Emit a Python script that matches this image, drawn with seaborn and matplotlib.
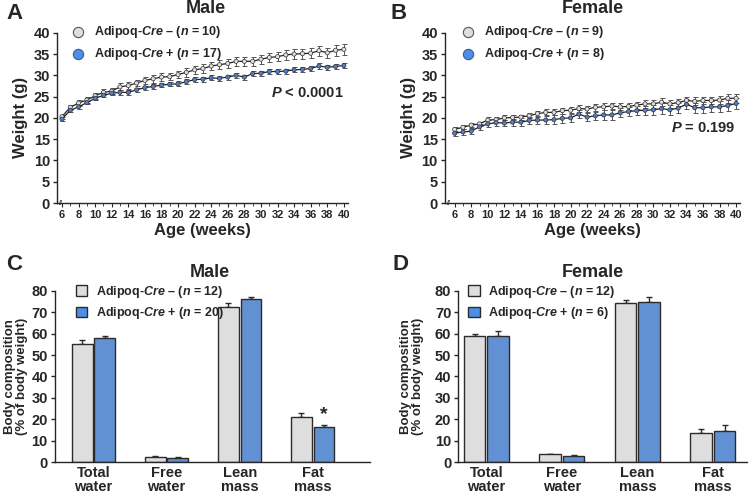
import matplotlib
matplotlib.use('Agg')
import matplotlib.pyplot as plt
import seaborn as sns
import numpy as np
import pandas as pd

# ---- data ----
weeks = list(range(6, 41))

male_neg = [20.3, 22.5, 23.5, 24.2, 25.2, 26.0, 26.3, 27.3, 27.6, 28.2, 28.8, 29.2,
            29.6, 29.7, 30.2, 30.7, 31.3, 31.6, 32.2, 32.5, 32.8, 33.3, 33.3, 33.3,
            33.8, 34.2, 34.4, 34.8, 35.0, 35.1, 35.2, 35.8, 35.3, 35.9, 36.1]
male_neg_err = [0.5, 0.6, 0.6, 0.6, 0.7, 0.7, 0.7, 0.8, 0.8, 0.8, 0.9, 0.9,
                0.9, 0.9, 0.9, 1.0, 1.0, 1.0, 1.0, 1.0, 1.0, 1.1, 1.1, 1.1,
                1.1, 1.1, 1.1, 1.2, 1.2, 1.2, 1.2, 1.2, 1.2, 1.3, 1.3]
male_pos = [19.7, 21.8, 22.6, 23.6, 24.6, 25.3, 25.8, 26.0, 26.0, 26.6, 27.1, 27.4,
            27.7, 27.9, 28.0, 28.5, 29.0, 29.1, 29.4, 29.3, 29.6, 30.0, 29.6, 30.4,
            30.5, 30.9, 30.9, 31.0, 31.3, 31.4, 31.6, 32.2, 31.9, 32.1, 32.3]
male_pos_err = [0.4, 0.4, 0.4, 0.4, 0.5, 0.5, 0.5, 0.5, 0.5, 0.5, 0.5, 0.5,
                0.5, 0.5, 0.6, 0.6, 0.6, 0.6, 0.6, 0.6, 0.6, 0.6, 0.6, 0.6,
                0.6, 0.6, 0.6, 0.6, 0.6, 0.6, 0.6, 0.6, 0.6, 0.6, 0.6]

female_neg = [17.3, 17.8, 18.3, 18.6, 19.5, 19.6, 20.0, 20.1, 20.2, 20.5, 21.0, 21.3,
              21.3, 21.7, 21.8, 22.2, 22.1, 22.5, 22.6, 22.8, 22.6, 22.7, 23.0, 23.3,
              23.3, 23.7, 23.3, 23.6, 24.1, 23.9, 24.1, 24.1, 24.2, 24.6, 24.6]
female_neg_err = [0.5, 0.5, 0.5, 0.5, 0.6, 0.6, 0.6, 0.6, 0.6, 0.6, 0.7, 0.7,
                  0.7, 0.7, 0.7, 0.8, 0.8, 0.8, 0.8, 0.8, 0.8, 0.8, 0.8, 0.9,
                  0.9, 0.9, 0.9, 0.9, 0.9, 0.9, 0.9, 0.9, 0.9, 1.0, 1.0]
female_pos = [16.4, 16.7, 16.9, 17.9, 18.6, 18.9, 18.8, 19.0, 19.0, 19.4, 19.5, 19.5,
              19.6, 19.9, 20.0, 20.9, 20.2, 20.5, 20.7, 20.7, 21.2, 21.5, 21.7, 21.8,
              21.9, 22.2, 21.9, 22.3, 23.2, 22.4, 22.4, 22.6, 22.6, 22.9, 23.4]
female_pos_err = [0.6, 0.6, 0.7, 0.7, 0.8, 0.8, 0.8, 0.8, 0.9, 0.9, 0.9, 0.9,
                  1.0, 1.0, 1.0, 1.0, 1.0, 1.0, 1.1, 1.1, 1.1, 1.1, 1.1, 1.1,
                  1.2, 1.2, 1.2, 1.2, 1.2, 1.2, 1.3, 1.3, 1.3, 1.3, 1.3]

measures = ['Total\nwater', 'Free\nwater', 'Lean\nmass', 'Fat\nmass']
male_comp_neg = [55.3, 2.5, 72.5, 21.0]
male_comp_neg_err = [1.5, 0.3, 2.0, 2.0]
male_comp_pos = [58.1, 2.1, 76.3, 16.2]
male_comp_pos_err = [1.0, 0.3, 0.8, 1.0]
female_comp_neg = [58.8, 3.8, 74.5, 13.7]
female_comp_neg_err = [1.2, 0.2, 1.4, 1.7]
female_comp_pos = [59.1, 2.9, 74.8, 14.4]
female_comp_pos_err = [2.2, 0.5, 2.4, 3.0]

GRAY = '#dedede'
BLUE = '#4f8ee6'
EDGE = '#2b2b2b'

sns.set_style('ticks')
plt.rcParams['font.family'] = ['Liberation Sans', 'DejaVu Sans']
plt.rcParams['font.weight'] = 'bold'
plt.rcParams['axes.labelweight'] = 'bold'
plt.rcParams['mathtext.fontset'] = 'custom'
plt.rcParams['mathtext.it'] = 'Liberation Sans:italic:bold'
plt.rcParams['mathtext.rm'] = 'Liberation Sans:bold'
plt.rcParams['axes.linewidth'] = 1.0


def label(sign, n):
    return 'Adipoq-$\\mathit{Cre}$ ' + sign + ' ($\\mathit{n}$ = ' + str(n) + ')'


def weight_panel(ax, neg, neg_err, pos, pos_err, n_neg, n_pos, ptext, py, xlo, lx):
    df = pd.DataFrame({
        'week': weeks * 2,
        'weight': neg + pos,
        'group': ['neg'] * len(weeks) + ['pos'] * len(weeks),
    })
    for vals, errs in [(neg, neg_err), (pos, pos_err)]:
        ax.errorbar(weeks, vals, yerr=errs, fmt='none', ecolor='#555555',
                    elinewidth=0.7, capsize=1.8, capthick=0.7, zorder=2)
    sns.lineplot(data=df, x='week', y='weight', hue='group', palette=['#222222', '#222222'],
                 linewidth=0.9, legend=False, ax=ax, zorder=3)
    sns.scatterplot(data=df, x='week', y='weight', hue='group', palette=[GRAY, '#4f7fd0'],
                    s=9, edgecolor='#333333', linewidth=0.5, legend=False, ax=ax, zorder=4)
    ax.set_xlim(xlo, 40.5)
    ax.set_ylim(0, 40)
    ax.set_yticks(range(0, 41, 5))
    ax.set_xticks(range(6, 41, 2))
    ax.set_xticks(range(6, 41), minor=True)
    ax.tick_params(axis='y', labelsize=10.5, length=3, width=1, pad=2)
    ax.tick_params(axis='x', labelsize=8, length=3, width=0.8, pad=2)
    ax.tick_params(axis='x', which='minor', length=2, width=0.6)
    for t in ax.get_xticklabels() + ax.get_yticklabels():
        t.set_fontweight('bold')
    ax.set_xlabel('Age (weeks)', fontsize=12, labelpad=2)
    ax.set_ylabel('Weight (g)', fontsize=12)
    sns.despine(ax=ax)
    # axis break mark
    ax.text(0.015, 0.0, '//', transform=ax.transAxes, fontsize=5, ha='center',
            va='center', color='#333333')
    h1 = ax.scatter([], [], s=55, color=GRAY, edgecolor='#555555', linewidth=0.8)
    h2 = ax.scatter([], [], s=55, color=BLUE, edgecolor='#3a5a90', linewidth=0.8)
    ax.legend([h1, h2], [label('–', n_neg), label('+', n_pos)], loc='upper left',
              bbox_to_anchor=(lx, 1.05), frameon=False, fontsize=9,
              handletextpad=0.8, borderaxespad=0, borderpad=0, labelspacing=0.45,
              handlelength=1.0)
    ax.text(0.985, py, ptext, transform=ax.transAxes, ha='right', va='center',
            fontsize=10.5, fontweight='bold')


def comp_panel(ax, neg, neg_err, pos, pos_err, n_neg, n_pos, xlo, xhi, lx, ylx):
    df = pd.DataFrame({
        'measure': measures * 2,
        'value': neg + pos,
        'group': ['neg'] * 4 + ['pos'] * 4,
    })
    sns.barplot(data=df, x='measure', y='value', hue='group', palette=[GRAY, BLUE],
                edgecolor=EDGE, linewidth=1.0, width=0.62, gap=0.08, ax=ax,
                errorbar=None, legend=False, zorder=2)
    for cont, errs in zip(ax.containers, [neg_err, pos_err]):
        for bar, e in zip(cont, errs):
            ax.errorbar(bar.get_x() + bar.get_width() / 2, bar.get_height(),
                        yerr=[[0], [e]], fmt='none', ecolor=EDGE, elinewidth=1.0,
                        capsize=2.5, capthick=1.0, zorder=1)
    ax.set_xlim(xlo, xhi)
    ax.set_ylim(0, 80)
    ax.set_yticks(range(0, 81, 10))
    ax.tick_params(axis='y', labelsize=10.5, length=3, width=1, pad=2)
    ax.tick_params(axis='x', labelsize=10.5, length=0, pad=3)
    for t in ax.get_xticklabels() + ax.get_yticklabels():
        t.set_fontweight('bold')
        t.set_linespacing(1.0)
    ax.set_xlabel('')
    ax.set_ylabel('Body composition\n(% of body weight)', fontsize=9.5, linespacing=1.0)
    ax.yaxis.set_label_coords(ylx, 0.5)
    sns.despine(ax=ax)
    h1 = plt.Rectangle((0, 0), 1, 1, facecolor=GRAY, edgecolor=EDGE, linewidth=1)
    h2 = plt.Rectangle((0, 0), 1, 1, facecolor=BLUE, edgecolor=EDGE, linewidth=1)
    ax.legend([h1, h2], [label('–', n_neg), label('+', n_pos)], loc='upper left',
              bbox_to_anchor=(lx, 1.04), frameon=False, fontsize=9,
              handletextpad=0.7, borderaxespad=0, borderpad=0, labelspacing=0.42,
              handlelength=0.9, handleheight=0.9)


fig = plt.figure(figsize=(7.5, 4.97), dpi=100)
axA = fig.add_axes([0.076, 0.5915, 0.388, 0.3425])
axB = fig.add_axes([0.593, 0.5915, 0.394, 0.3425])
axC = fig.add_axes([0.073, 0.070, 0.420, 0.345])
axD = fig.add_axes([0.611, 0.070, 0.385, 0.345])

weight_panel(axA, male_neg, male_neg_err, male_pos, male_pos_err, 10, 17,
             '$\\mathit{P}$ < 0.0001', 0.647, 5.4, 0.05)
weight_panel(axB, female_neg, female_neg_err, female_pos, female_pos_err, 9, 8,
             '$\\mathit{P}$ = 0.199', 0.44, 4.8, 0.058)
comp_panel(axC, male_comp_neg, male_comp_neg_err, male_comp_pos, male_comp_pos_err,
           12, 20, -0.53, 3.78, 0.067, -0.085)
comp_panel(axD, female_comp_neg, female_comp_neg_err, female_comp_pos, female_comp_pos_err,
           12, 6, -0.37, 3.45, 0.035, -0.12)

# significance star on male fat mass (Cre+)
star_bar = axC.containers[1][3]
axC.text(star_bar.get_x() + star_bar.get_width() / 2,
         male_comp_pos[3] + male_comp_pos_err[3] + 1.0, '*',
         ha='center', va='bottom', fontsize=14, fontweight='bold')

fig.text(0.275, 0.983, 'Male', ha='center', va='center', fontsize=13, fontweight='bold')
fig.text(0.791, 0.983, 'Female', ha='center', va='center', fontsize=13, fontweight='bold')
fig.text(0.280, 0.452, 'Male', ha='center', va='center', fontsize=13, fontweight='bold')
fig.text(0.791, 0.452, 'Female', ha='center', va='center', fontsize=13, fontweight='bold')
fig.text(0.008, 0.972, 'A', ha='left', va='center', fontsize=16, fontweight='bold')
fig.text(0.521, 0.972, 'B', ha='left', va='center', fontsize=16, fontweight='bold')
fig.text(0.008, 0.468, 'C', ha='left', va='center', fontsize=16, fontweight='bold')
fig.text(0.523, 0.468, 'D', ha='left', va='center', fontsize=16, fontweight='bold')

fig.savefig('out.png', dpi=100)
